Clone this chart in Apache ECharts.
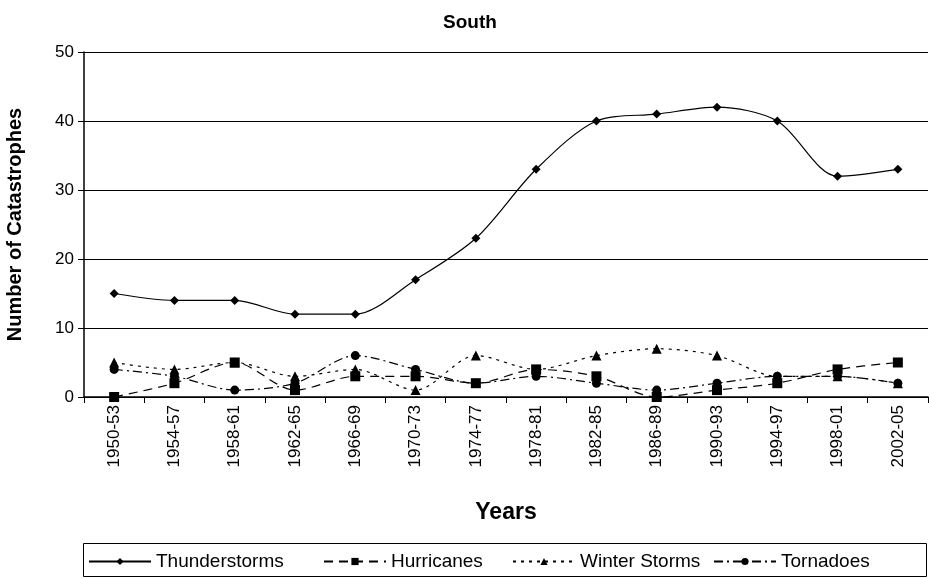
<!DOCTYPE html>
<html>
<head>
<meta charset="utf-8">
<script src="https://cdn.jsdelivr.net/npm/echarts@6/dist/echarts.min.js"></script>
<style>
  html, body { margin: 0; padding: 0; background: #fff; }
  #chart { width: 929px; height: 578px; }
</style>
</head>
<body>
<div id="chart"></div>
<script>
var periods = ["1950-53", "1954-57", "1958-61", "1962-65", "1966-69", "1970-73", "1974-77",
  "1978-81", "1982-85", "1986-89", "1990-93", "1994-97", "1998-01", "2002-05"];
var thunderstorms = [15, 14, 14, 12, 12, 17, 23, 33, 40, 41, 42, 40, 32, 33];
var hurricanes = [0, 2, 5, 1, 3, 3, 2, 4, 3, 0, 1, 2, 4, 5];
var winterStorms = [5, 4, 5, 3, 4, 1, 6, 4, 6, 7, 6, 3, 3, 2];
var tornadoes = [4, 3, 1, 2, 6, 4, 2, 3, 2, 1, 2, 3, 3, 2];
var seriesNames = ["Thunderstorms", "Hurricanes", "Winter Storms", "Tornadoes"];

var chartDom = document.getElementById("chart");
var myChart = echarts.init(chartDom);
var font = "Liberation Sans, Arial, sans-serif";

function makeSeries(name, data, symbol, size, lineType) {
  return {
    name: name,
    type: "line",
    data: data,
    smooth: 0.3,
    symbol: symbol,
    symbolSize: size,
    showAllSymbol: true,
    lineStyle: { color: "#000", width: 1.2, type: lineType },
    itemStyle: { color: "#000" },
    emphasis: { disabled: true },
    animation: false
  };
}

// one legend per series so each entry sits where the original one does
var legendLefts = [88, 323, 512, 713];
var legends = seriesNames.map(function (name, i) {
  return {
    left: legendLefts[i],
    top: 552,
    padding: 0,
    itemWidth: 62,
    itemHeight: 9,
    textStyle: { fontFamily: font, fontSize: 19, color: "#000" },
    data: [name]
  };
});

var option = {
  backgroundColor: "#fff",
  title: {
    text: "South",
    left: 465,
    textAlign: "center",
    top: 8,
    textStyle: { fontFamily: font, fontSize: 19, fontWeight: "bold", color: "#000" }
  },
  graphic: [
    {
      type: "rect",
      shape: { x: 83.5, y: 543.5, width: 843, height: 33 },
      style: { fill: "none", stroke: "#000", lineWidth: 1 }
    }
  ],
  legend: legends,
  grid: { left: 84, right: 1, top: 52, bottom: 181, outerBoundsMode: "none" },
  xAxis: {
    type: "category",
    data: periods,
    boundaryGap: true,
    name: "Years",
    nameLocation: "middle",
    nameGap: 104,
    nameTextStyle: { fontFamily: font, fontSize: 23, fontWeight: "bold", color: "#000" },
    axisLine: { lineStyle: { color: "#000", width: 1.5 } },
    axisTick: { show: true, length: 6, alignWithLabel: false, lineStyle: { color: "#000" } },
    axisLabel: { rotate: 90, fontFamily: font, fontSize: 17, color: "#000", margin: 8 },
    splitLine: { show: false }
  },
  yAxis: {
    type: "value",
    min: 0,
    max: 50,
    interval: 10,
    name: "Number of Catastrophes",
    nameLocation: "middle",
    nameGap: 59,
    nameTextStyle: { fontFamily: font, fontSize: 20, fontWeight: "bold", color: "#000" },
    axisLine: { show: true, lineStyle: { color: "#000", width: 1.5 } },
    axisTick: { show: true, length: 6, lineStyle: { color: "#000" } },
    axisLabel: { fontFamily: font, fontSize: 17, color: "#000", margin: 10 },
    splitLine: { show: true, lineStyle: { color: "#000", width: 1.2 } }
  },
  series: [
    makeSeries(seriesNames[0], thunderstorms, "diamond", 9, "solid"),
    makeSeries(seriesNames[1], hurricanes, "rect", 10, [9, 6]),
    makeSeries(seriesNames[2], winterStorms, "triangle", 10, [3, 5]),
    makeSeries(seriesNames[3], tornadoes, "circle", 9, [9, 4, 2, 4])
  ]
};

option && myChart.setOption(option);
</script>
</body>
</html>
